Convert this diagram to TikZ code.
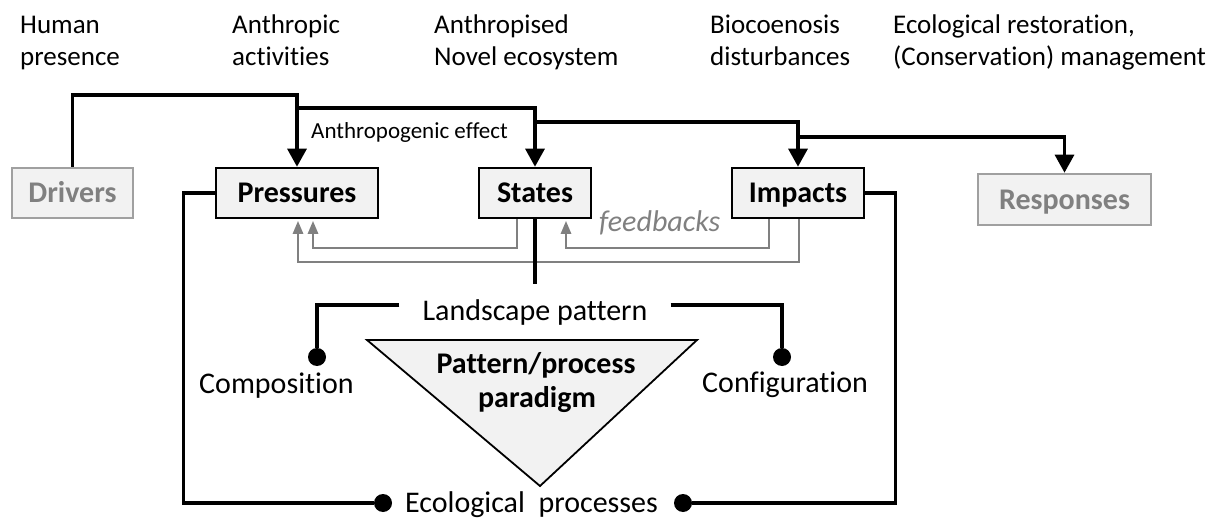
\documentclass[tikz,border=0pt]{standalone}
\usepackage{fontspec}
\setmainfont{Carlito}[Ligatures={NoCommon}]
\usetikzlibrary{arrows.meta}
\definecolor{boxfill}{HTML}{F2F2F2}
\definecolor{fbgray}{HTML}{808080}
\definecolor{dimborder}{HTML}{A0A0A0}

\begin{document}
\begin{tikzpicture}[x=1pt,y=-1pt,
  dpsir/.style={draw=black, line width=2.6pt, fill=boxfill, inner sep=0pt,
    font=\fontsize{30}{36}\selectfont\bfseries, minimum height=50pt,
    text height=26pt, text depth=6pt},
  dimbox/.style={dpsir, draw=dimborder, text=fbgray},
  toplabel/.style={anchor=base west, inner sep=0pt, font=\fontsize{27}{32}\selectfont},
  link/.style={line width=3.2pt},
  push/.style={link, -{Triangle[length=18pt,width=19pt]}},
  feedback/.style={draw=fbgray, line width=2.6pt, shorten >=1.5pt,
    -{Triangle[length=13pt,width=10pt]}},
  plain/.style={inner sep=0pt, font=\fontsize{30}{36}\selectfont},
  dot/.style={circle, fill=black, inner sep=0pt, minimum size=18pt},
]
\useasboundingbox (0,0) rectangle (1218,521);

% header labels
\node[toplabel] (hp) at (20,34) {\begin{tabular}[t]{@{}l@{}}Human\\presence\end{tabular}};
\node[toplabel] (aa) at (232,34) {\begin{tabular}[t]{@{}l@{}}Anthropic\\activities\end{tabular}};
\node[toplabel] (an) at (434,34) {\begin{tabular}[t]{@{}l@{}}Anthropised\\Novel ecosystem\end{tabular}};
\node[toplabel] (bd) at (710,34) {\begin{tabular}[t]{@{}l@{}}Biocoenosis\\disturbances\end{tabular}};
\node[toplabel] (er) at (893,34) {\begin{tabular}[t]{@{}l@{}}Ecological restoration,\\(Conservation) management\end{tabular}};

% DPSIR boxes
\node[dimbox, minimum width=121pt] (drv) at (72.5,193) {Drivers};
\node[dpsir, minimum width=162pt] (pres) at (297,193) {Pressures};
\node[dpsir, minimum width=112pt] (sta) at (535,193) {States};
\node[dpsir, minimum width=132pt] (imp) at (798,193) {Impacts};
\node[dimbox, minimum width=173pt, minimum height=51pt] (rsp) at (1064.5,199.5) {Responses};

% causal chain
\coordinate (j1) at (297,95);
\coordinate (j2) at (297,108);
\coordinate (j3) at (535,122);
\coordinate (j4) at (798,137);
\draw[push] (drv.north) |- (j1) -- (pres.north);
\draw[push] (j2) -| (sta.north);
\draw[push] (j3) -| (imp.north);
\draw[push] (j4) -| (rsp.north);
\node[anchor=base west, inner sep=0pt, font=\fontsize{23}{28}\selectfont] (ae) at (311,139) {Anthropogenic effect};

% feedback loops
\coordinate (f1) at (400,248);
\coordinate (f2) at (660,248);
\coordinate (f3) at (540,262);
\draw[feedback] ([xshift=-18pt]sta.south) |- (f1) -| ([xshift=16pt]pres.south);
\draw[feedback] ([xshift=-29pt]imp.south) |- (f2) -| ([xshift=31pt]sta.south);
\draw[feedback] ([xshift=1pt]imp.south) |- (f3) -| ([xshift=1pt]pres.south);
\node[anchor=base west, inner sep=0pt, font=\fontsize{30}{36}\selectfont\itshape, text=fbgray] (fbk) at (599,232) {feedbacks};

% landscape pattern and its components
\node[plain, inner xsep=23pt, inner ysep=14pt, text height=22pt, text depth=6pt, anchor=base] (lp) at (535,320) {Landscape pattern};
\draw[link] (sta.south) -- (lp.north);
\node[dot] (cdot) at (317,357) {};
\node[dot] (gdot) at (782,357) {};
\draw[link] ([yshift=7pt]lp.west) -| (cdot);
\draw[link] ([yshift=7pt]lp.east) -| (gdot);
\node[plain, anchor=base west] (comp) at (199,393) {Composition};
\node[plain, anchor=base west] (conf) at (702,392) {Configuration};

% paradigm triangle
\draw[line width=1.8pt, fill=boxfill] (367,340) -- (697,340) -- (540,486) -- cycle;
\node[plain, font=\fontsize{30}{36}\selectfont\bfseries, anchor=base] (pp1) at (536,373) {Pattern/process};
\node[plain, font=\fontsize{30}{36}\selectfont\bfseries, anchor=base] (pp2) at (537,407) {paradigm};

% ecological processes
\node[plain, anchor=base] (eco) at (531.5,512) {Ecological\ \ processes};
\node[dot] (edl) at (383,503) {};
\node[dot] (edr) at (683,503) {};
\draw[link] (pres.west) -- ++(-31,0) |- (edl);
\draw[link] (imp.east) -- ++(30,0) |- (edr);
\end{tikzpicture}
\end{document}
